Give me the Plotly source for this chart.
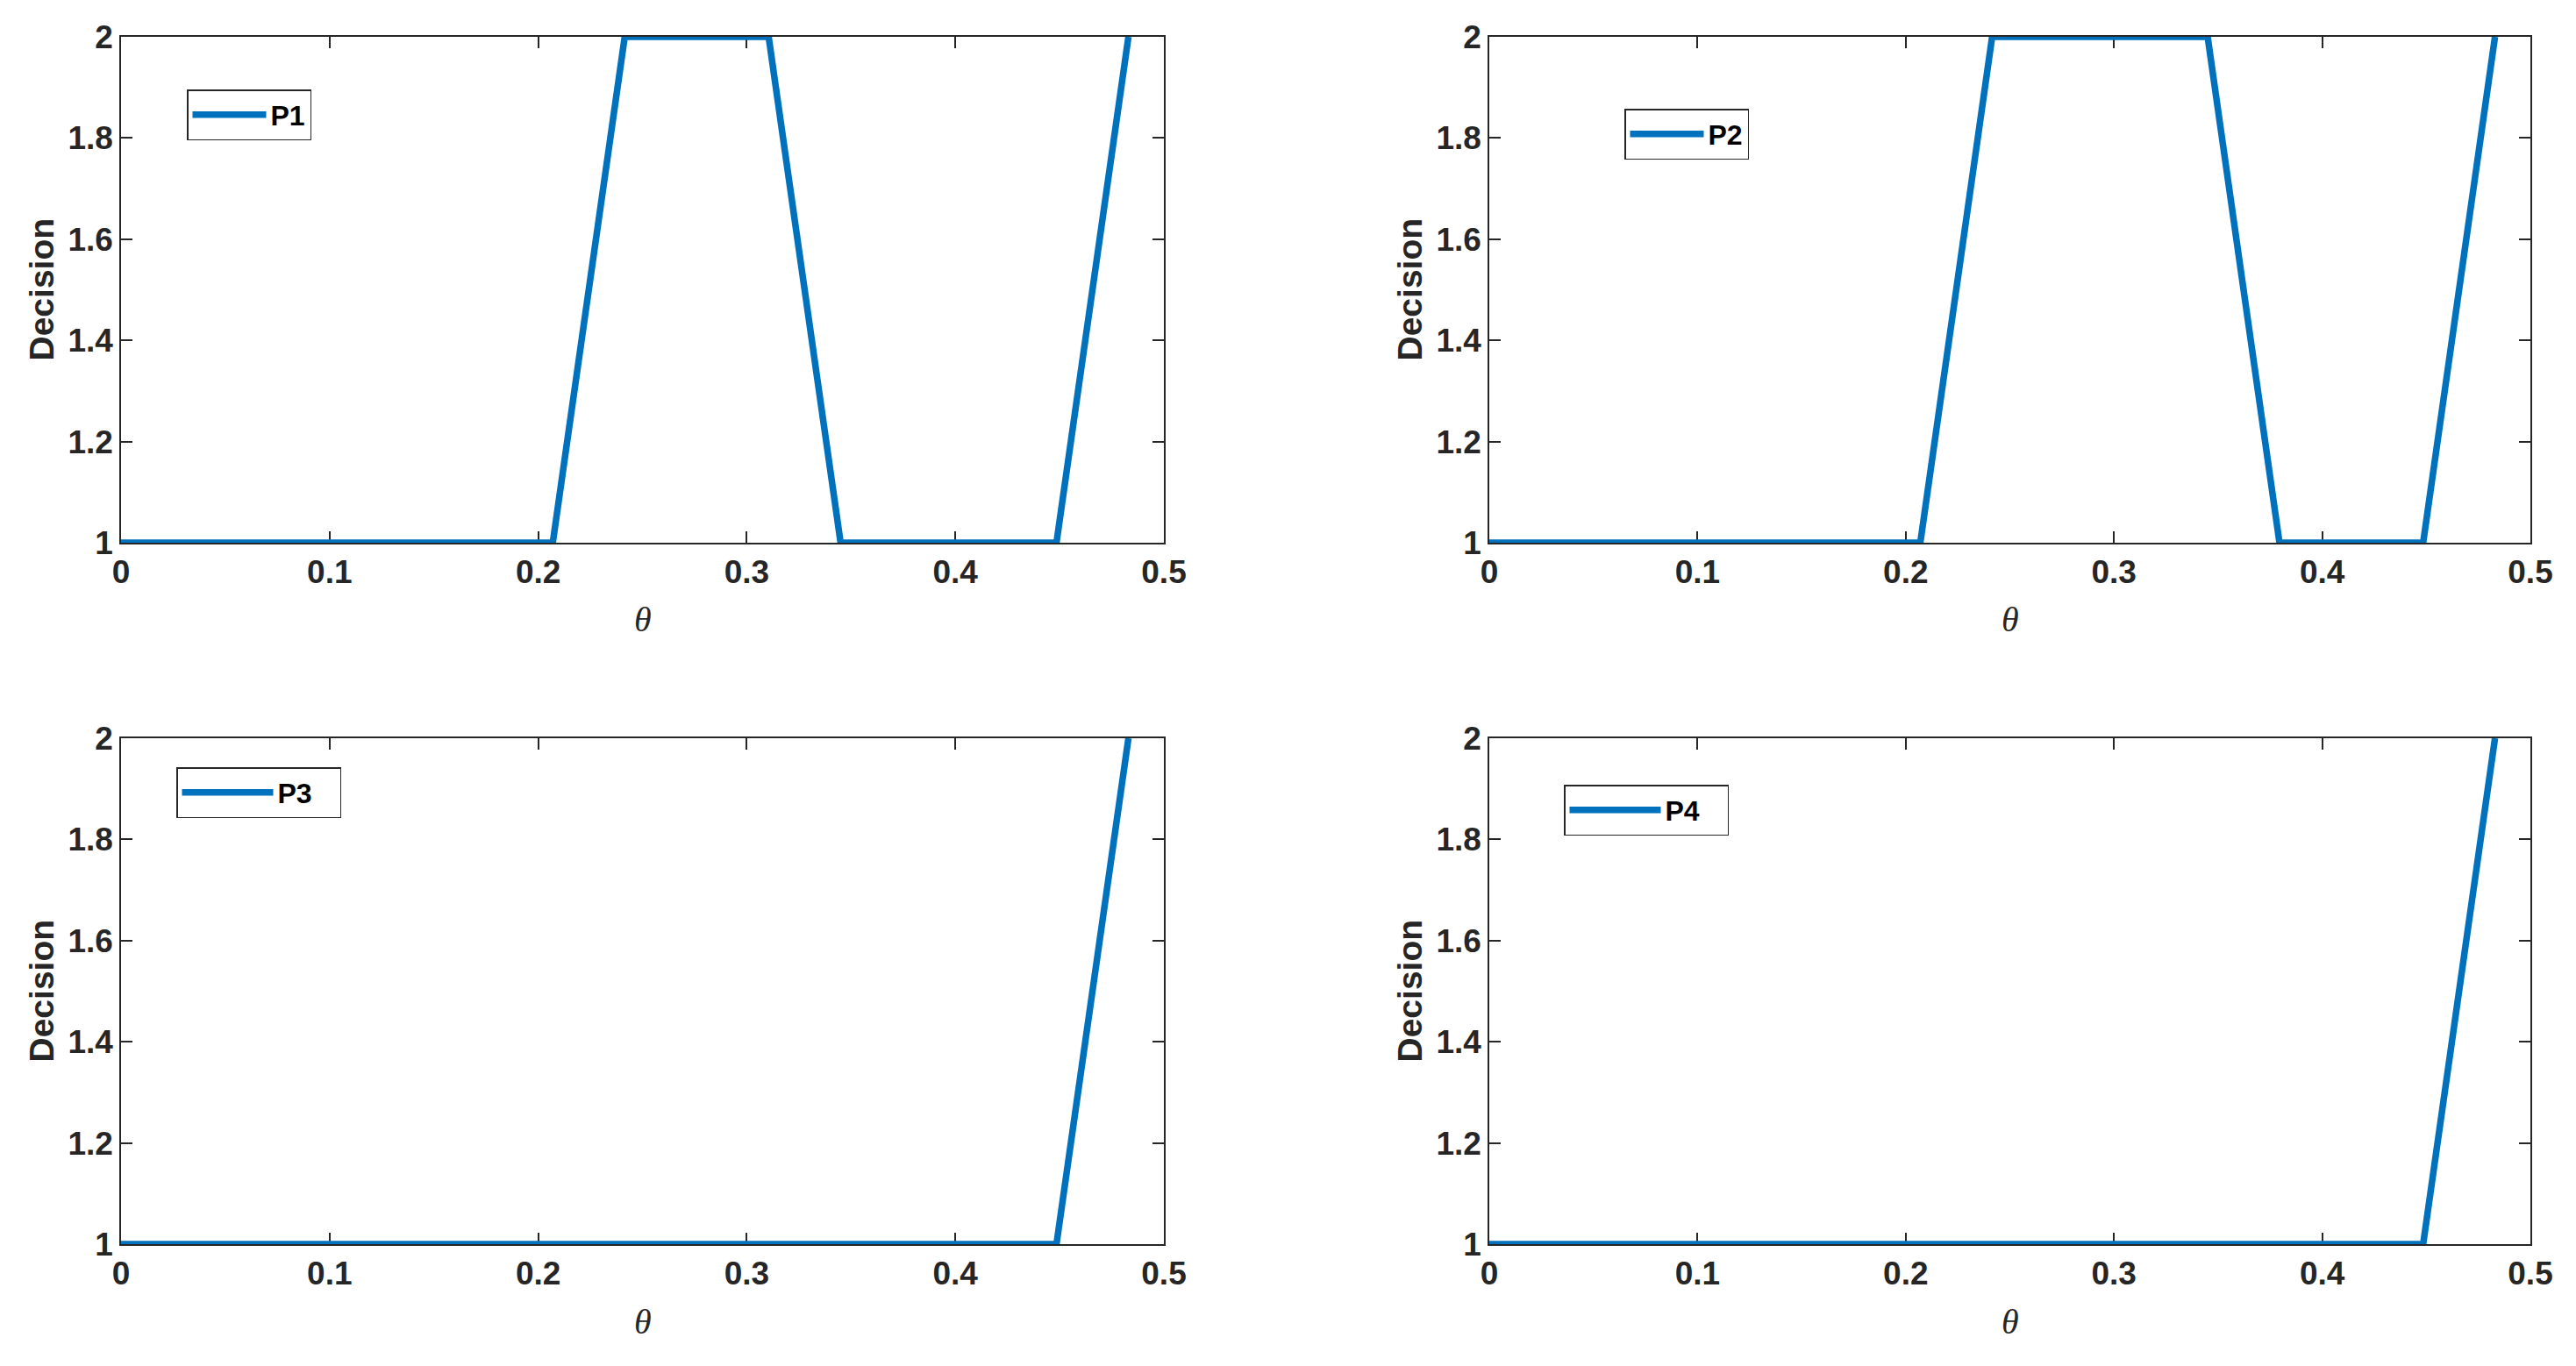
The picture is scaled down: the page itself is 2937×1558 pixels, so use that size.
import plotly.graph_objects as go
from plotly.subplots import make_subplots

# theta grid and decisions
theta = [0, 0.0345, 0.069, 0.1035, 0.138, 0.1725, 0.207, 0.2415,
         0.276, 0.3105, 0.345, 0.3795, 0.414, 0.4485, 0.483]
p1 = [1, 1, 1, 1, 1, 1, 1, 2, 2, 2, 1, 1, 1, 1, 2]
p2 = [1, 1, 1, 1, 1, 1, 1, 2, 2, 2, 2, 1, 1, 1, 2]
p3 = [1, 1, 1, 1, 1, 1, 1, 1, 1, 1, 1, 1, 1, 1, 2]
p4 = [1, 1, 1, 1, 1, 1, 1, 1, 1, 1, 1, 1, 1, 1, 2]
names = ["P1", "P2", "P3\u00a0\u00a0\u00a0", "P4\u00a0\u00a0\u00a0"]
xticks = [0, 0.1, 0.2, 0.3, 0.4, 0.5]
yticks = [1, 1.2, 1.4, 1.6, 1.8, 2]

# page body has an 8px margin, so the figure is drawn 8px in from the window
OFF = 8
W, H = 2937 - 2 * OFF, 1558 - 2 * OFF
BLUE = "#0072BD"
DARK = "#262626"


def px_x(v):
    return (v - OFF) / W


def px_y(v):
    return 1 - (v - OFF) / H


fig = make_subplots(rows=2, cols=2)

series = [p1, p2, p3, p4]
cells = [(1, 1), (1, 2), (2, 1), (2, 2)]
# legend boxes (window pixels, top-left corner) and symbol widths
leg_pos = [(213, 102, 84), (1852, 124, 84), (201, 875, 104), (1783, 895, 104)]

for i, (ys, (r, c)) in enumerate(zip(series, cells)):
    lname = "legend" if i == 0 else f"legend{i + 1}"
    fig.add_trace(go.Scatter(
        x=theta, y=ys, mode="lines", name=names[i],
        line=dict(color=BLUE, width=7.5),
        cliponaxis=False,
        legend=lname, showlegend=True,
    ), row=r, col=c)
    lx, ly, iw = leg_pos[i]
    fig.update_layout({lname: dict(
        x=px_x(lx), y=px_y(ly), xanchor="left", yanchor="top",
        bgcolor="white", bordercolor=DARK, borderwidth=1.5,
        font=dict(family="Liberation Sans", size=32, color="black", weight="bold"),
        itemwidth=iw,
    )})

xdom = [(138, 1327), (1698, 2885)]
ydom = [(42, 619), (842, 1419)]
for r, c in cells:
    x0, x1 = xdom[c - 1]
    y0, y1 = ydom[r - 1]
    fig.update_xaxes(domain=[px_x(x0), px_x(x1)], row=r, col=c)
    fig.update_yaxes(domain=[px_y(y1), px_y(y0)], row=r, col=c)

axis_style = dict(
    showline=True, mirror="ticks", linecolor=DARK, linewidth=1.5,
    ticks="inside", ticklen=13, tickwidth=1.5, tickcolor=DARK,
    showgrid=False, zeroline=False, layer="below traces", automargin=False,
    tickfont=dict(family="Liberation Sans", size=37, color=DARK, weight="bold"),
)
fig.update_xaxes(range=[0, 0.5], tickvals=xticks, **axis_style)
fig.update_yaxes(range=[1, 2], tickvals=yticks, **axis_style)

# axis labels
for i in range(4):
    sfx = "" if i == 0 else str(i + 1)
    fig.add_annotation(
        text="Decision", textangle=-90, showarrow=False,
        xref=f"x{sfx} domain", yref=f"y{sfx} domain", x=0, y=0.5,
        xanchor="center", yanchor="middle", xshift=-91,
        font=dict(family="Liberation Sans", size=39, color=DARK, weight="bold"),
    )
    fig.add_annotation(
        text="<i>θ</i>", showarrow=False,
        xref=f"x{sfx} domain", yref=f"y{sfx} domain", x=0.5, y=0,
        xanchor="center", yanchor="middle", yshift=-88,
        font=dict(family="Liberation Serif", size=40, color=DARK),
    )

fig.update_layout(
    width=W, height=H, autosize=False,
    margin=dict(l=0, r=0, t=0, b=0, pad=0),
    paper_bgcolor="white", plot_bgcolor="white",
)

fig.write_html("out.html")
